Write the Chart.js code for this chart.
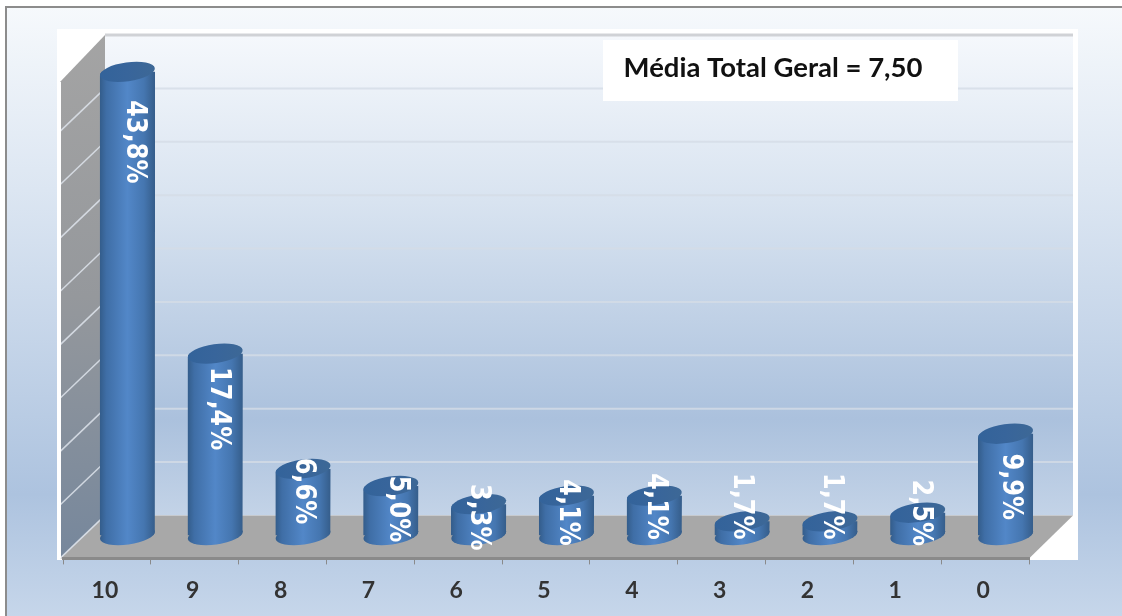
<!DOCTYPE html>
<html><head><meta charset="utf-8">
<style>html,body{margin:0;padding:0;background:#fff}canvas{display:block}</style>
<script src="https://cdn.jsdelivr.net/npm/chart.js@4/dist/chart.umd.min.js"></script>
</head><body><div style="width:1122px;height:616px;position:relative"><canvas id="c" width="1122" height="616"></canvas></div>
<script>
const categories = ['10','9','8','7','6','5','4','3','2','1','0'];
const shares = [43.8,17.4,6.6,5.0,3.3,4.1,4.1,1.7,1.7,2.5,9.9];
const yTicks = [0,5,10,15,20,25,30,35,40,45];
const boxText = 'Média Total Geral = 7,50';

const DEPTH_X = 20.5, DEPTH_Y = 19;
const WALL_X = 42, WALL_Y = 43;
const TILT = -8 * Math.PI / 180, RY = 9.5, BAR_PCT = 0.63;
// label placement relative to each cylinder's top (manual in the original)
const labelDX = [7,3,0,6,-1,1,1,-1,1,2,5];
const labelDY = [70,55,22,23,13,17,11,-15,-15,0,53];

function bodyGrad(ctx, l, r){
  const g = ctx.createLinearGradient(l,0,r,0);
  g.addColorStop(0,'#335c8a');g.addColorStop(0.12,'#3f6ea6');g.addColorStop(0.5,'#5287c8');
  g.addColorStop(0.8,'#4576b0');g.addColorStop(1,'#355d8a');
  return g;
}
function cylinderPath(ctx, b){
  const rx = b.width/2, x = b.x, dx = Math.sin(-TILT)*rx;
  ctx.moveTo(x-rx, b.y+dx);
  ctx.lineTo(x-rx, b.base+dx);
  ctx.ellipse(x, b.base, rx, RY, TILT, Math.PI, 0, true);
  ctx.lineTo(x+rx, b.y-dx);
  ctx.ellipse(x, b.y, rx, RY, TILT, 0, Math.PI, true);
  ctx.closePath();
}
const scene = {
  id:'scene',
  beforeDraw(chart){
    const {ctx,chartArea:a,scales:{y}} = chart;
    ctx.save();
    ctx.fillStyle='#fff';ctx.fillRect(0,0,1122,616);
    let g=ctx.createLinearGradient(0,7,0,616);
    g.addColorStop(0,'#f6f9fc');g.addColorStop(0.3,'#dce6f2');g.addColorStop(0.8,'#adc3df');g.addColorStop(1,'#c6d6ea');
    ctx.fillStyle=g;ctx.fillRect(6,7,1116,609);
    ctx.strokeStyle='#8c8c8c';ctx.lineWidth=2;
    ctx.beginPath();ctx.moveTo(6,616);ctx.lineTo(6,7);ctx.lineTo(1122,7);ctx.stroke();
    // white plot plate
    ctx.fillStyle='#fff';ctx.fillRect(57,29,1021,531);
    const bx=a.left+WALL_X, by=a.bottom-WALL_Y, ty=y.getPixelForValue(45)-WALL_Y;
    // back wall
    g=ctx.createLinearGradient(0,ty,0,by);
    g.addColorStop(0,'#f5f8fc');g.addColorStop(0.35,'#d8e3f0');g.addColorStop(0.8,'#abc1dd');g.addColorStop(1,'#c3d3e7');
    ctx.fillStyle=g;ctx.fillRect(bx,ty,a.right+WALL_X-bx+2,by-ty);
    // left wall
    g=ctx.createLinearGradient(0,ty,0,a.bottom);
    g.addColorStop(0,'#a4a4a4');g.addColorStop(0.5,'#95989c');g.addColorStop(1,'#76879c');
    ctx.fillStyle=g;ctx.beginPath();
    ctx.moveTo(a.left-3,y.getPixelForValue(45)+4);ctx.lineTo(bx,ty);ctx.lineTo(bx,by);ctx.lineTo(a.left-3,a.bottom);ctx.closePath();ctx.fill();
    // floor
    ctx.fillStyle='#a8a8a8';ctx.beginPath();
    ctx.moveTo(a.left-3,a.bottom);ctx.lineTo(bx,by);ctx.lineTo(a.right+WALL_X+2,by);ctx.lineTo(a.right,a.bottom);ctx.closePath();ctx.fill();
    // grid lines
    yTicks.forEach(v=>{
      const p=y.getPixelForValue(v);
      ctx.lineCap='butt';
      if(v<45){
        ctx.lineWidth=1.5;ctx.strokeStyle='rgba(222,228,236,0.85)';
        ctx.beginPath();ctx.moveTo(a.left-3,p);ctx.lineTo(bx,p-WALL_Y);ctx.stroke();
      }
      if(v>0){
        ctx.lineWidth=v===45?3:2;ctx.strokeStyle=v===45?'rgba(205,208,212,0.95)':'rgba(212,220,230,0.8)';
        ctx.beginPath();ctx.moveTo(bx,p-WALL_Y);ctx.lineTo(a.right+WALL_X+2,p-WALL_Y);ctx.stroke();
      }
    });
    // left white edge
    ctx.strokeStyle='#fff';ctx.lineWidth=2;
    ctx.beginPath();ctx.moveTo(a.left-3,y.getPixelForValue(45)+4);ctx.lineTo(a.left-3,a.bottom);ctx.stroke();
    // text box
    ctx.fillStyle='#fff';ctx.fillRect(603,40,355,61);
    ctx.fillStyle='#111';ctx.font='bold 27.5px Lato';ctx.textAlign='center';ctx.textBaseline='middle';
    ctx.fillText(boxText,773,68);
    ctx.restore();
  },
  beforeDatasetDraw(chart,args){
    const ctx=chart.ctx,bars=args.meta.data;
    ctx.save();
    ctx.translate(DEPTH_X,-DEPTH_Y);
    ctx.beginPath();
    bars.forEach(b=>cylinderPath(ctx,b));
    ctx.clip();
  },
  afterDatasetDraw(chart,args){
    const ctx=chart.ctx,bars=args.meta.data;
    ctx.restore();
    ctx.save();
    ctx.translate(DEPTH_X,-DEPTH_Y);
    bars.forEach(b=>{
      const rx=b.width/2;
      ctx.fillStyle=bodyGrad(ctx,b.x-rx,b.x+rx);
      ctx.beginPath();ctx.ellipse(b.x,b.base,rx,RY,TILT,0,Math.PI*2);ctx.fill();
      const g=ctx.createLinearGradient(b.x-rx,0,b.x+rx,0);
      g.addColorStop(0,'#33639a');g.addColorStop(0.5,'#38659b');g.addColorStop(1,'#3d6896');
      ctx.fillStyle=g;
      ctx.beginPath();ctx.ellipse(b.x,b.y,rx,RY,TILT,0,Math.PI*2);ctx.fill();
    });
    ctx.restore();
    ctx.save();
    ctx.fillStyle='#fff';ctx.font='bold 24px "DejaVu Sans"';ctx.textAlign='center';ctx.textBaseline='middle';
    bars.forEach((b,i)=>{
      ctx.save();
      ctx.translate(b.x+DEPTH_X+labelDX[i],b.y-DEPTH_Y+labelDY[i]);
      ctx.rotate(Math.PI/2);
      ctx.scale(1,1.15);
      ctx.fillText(shares[i].toFixed(1).replace('.',',')+'%',0,0);
      ctx.restore();
    });
    ctx.restore();
  }
};
new Chart(document.getElementById('c'),{
  type:'bar',
  data:{labels:categories,datasets:[{
    data:shares,
    base:0.4,
    barPercentage:BAR_PCT,categoryPercentage:1,
    clip:false,
    backgroundColor(c){
      const s=c.chart.scales.x;
      if(!s||!s.width||c.dataIndex===undefined)return '#4a7dbd';
      const cx=s.getPixelForValue(c.dataIndex), w=s.width/categories.length*BAR_PCT;
      return bodyGrad(c.chart.ctx,cx-w/2,cx+w/2);
    }
  }]},
  plugins:[scene],
  options:{
    responsive:false,animation:false,
    layout:{padding:{left:63,right:93,top:78,bottom:0}},
    plugins:{legend:{display:false},tooltip:{enabled:false}},
    scales:{
      x:{offset:true,
        grid:{display:true,drawOnChartArea:false,drawTicks:true,tickLength:6,color:'#8a8a8a',offset:true},
        border:{display:true,color:'#8a8a8a',width:3},
        ticks:{color:'#333',font:{family:'Lato',size:23,weight:'bold'},padding:12,maxRotation:0,labelOffset:-2}
      },
      y:{display:false,min:0,max:45,ticks:{stepSize:5}}
    }
  }
});
</script></body></html>
